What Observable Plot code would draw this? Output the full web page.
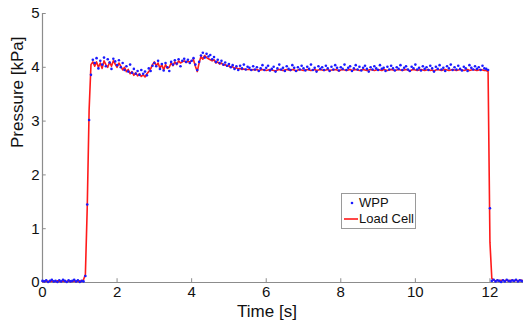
<!DOCTYPE html>
<html>
<head>
<meta charset="utf-8">
<script src="https://cdn.jsdelivr.net/npm/d3@7"></script>
<script src="https://cdn.jsdelivr.net/npm/@observablehq/plot@0.6"></script>
<style>
  body { margin: 0; background: #fff; }
  #wrap { position: relative; width: 523px; height: 325px; font-family: "Liberation Sans", Arial, sans-serif; }
  #legend { position: absolute; left: 341px; top: 193px; width: 73px; height: 34px; border: 1px solid #9a9a9a; background: #fff; font-size: 13px; color: #111; }
  .row { position: absolute; left: 0; height: 16px; line-height: 16px; }
  .sym { position: absolute; left: 2px; width: 14px; height: 16px; }
  .lab { position: absolute; left: 17px; white-space: nowrap; }
</style>
</head>
<body>
<div id="wrap"></div>
<script>
// sampling interval of both series [s]
const dt = 0.05;

const xTicks = [0, 2, 4, 6, 8, 10, 12];
const yTicks = [0, 1, 2, 3, 4, 5];
const xLabel = "Time [s]";
const yLabel = "Pressure [kPa]";
const seriesNames = ["WPP", "Load Cell"];

// WPP pressure [kPa], one value per sample
const wpp = [
  0.03,0.02,0.04,0.01,0.03,0.05,0.02,0.03,0.01,0.04,0.02,0.05,0.03,0.01,0.04,0.02,0.03,0.05,0.02,0.04,0.01,0.03,0.02,0.12,
  1.45,3.02,3.86,4.14,
  4.08,4.17,3.98,4.12,4.05,4.18,4.02,4.15,4.09,3.97,4.16,4.11,4.04,
  4.13,4.00,4.08,3.95,4.02,3.92,4.05,3.90,3.97,3.88,3.93,3.86,
  3.95,3.88,3.92,3.85,3.98,3.93,4.03,4.08,
  4.02,4.12,3.97,4.06,3.94,4.08,4.00,3.93,4.10,4.05,
  4.13,4.07,4.15,4.02,4.12,4.16,4.10,4.14,4.08,4.12,
  4.17,4.05,3.95,4.10,4.22,4.27,4.18,4.25,4.20,4.23,
  4.15,4.19,4.10,4.14,4.08,4.12,4.05,4.09,4.03,4.06,
  4.00,4.04,3.97,4.02,3.95,4.03,3.98,4.05,3.96,4.01,
  3.99,3.95,4.02,3.96,4.00,3.93,3.98,4.04,3.95,3.99,
  4.03,3.94,3.97,4.01,3.92,3.98,4.05,3.96,3.99,3.93,
  4.02,3.97,3.95,4.04,3.99,3.93,4.00,3.96,4.03,3.98,
  3.94,4.01,3.97,4.05,3.95,3.99,3.92,4.02,3.97,4.00,
  3.95,4.03,3.98,3.93,4.01,3.96,4.04,3.99,3.94,4.00,
  3.97,4.05,3.95,3.99,4.02,3.93,3.98,4.04,3.96,4.01,
  3.94,3.99,4.03,3.97,3.92,4.00,3.96,4.02,3.98,3.95,
  4.04,3.97,3.99,3.93,4.01,3.96,4.03,3.98,3.94,4.00,
  3.97,4.04,3.95,3.99,4.02,3.96,3.93,4.01,3.98,4.05,
  3.96,3.99,3.94,4.02,3.97,4.00,3.95,4.03,3.98,3.92,
  4.01,3.97,4.04,3.96,3.99,3.93,4.02,3.98,4.05,3.95,
  4.00,3.96,4.03,3.97,3.94,4.01,3.98,3.93,4.04,3.99,
  3.96,4.02,3.97,4.00,3.95,4.03,3.98,
  3.97,3.95,1.38,
  0.03,0.05,0.02,0.04,0.03,0.01,0.04,0.02,0.05,0.03,0.02,0.04,0.03,0.05,0.02,0.04,0.03,0.02
];

// Load cell pressure [kPa], one value per sample
const loadCell = [
  0.02,0.02,0.03,0.02,0.02,0.03,0.02,0.02,0.03,0.02,0.02,0.03,0.02,0.02,0.03,0.02,0.02,0.03,0.02,0.02,0.03,0.02,0.05,0.15,
  1.40,3.20,4.05,4.10,
  4.02,4.10,4.00,4.08,3.98,4.12,4.05,4.00,4.10,4.02,4.12,4.06,4.00,
  4.08,4.02,3.95,4.00,3.92,3.96,3.88,3.92,3.85,3.90,3.84,3.88,
  3.83,3.86,3.82,3.88,3.92,3.97,4.05,4.10,
  4.03,4.08,3.98,4.05,3.95,4.05,3.98,4.00,4.08,4.03,
  4.10,4.05,4.12,4.08,4.10,4.12,4.09,4.11,4.10,4.12,
  4.14,4.02,3.92,4.08,4.20,4.15,4.22,4.18,4.16,4.14,
  4.12,4.14,4.08,4.10,4.06,4.08,4.04,4.05,4.02,4.03,
  4.00,4.01,3.98,3.99,3.97,3.98,3.96,3.97,3.96,3.96,
  3.96,3.95,3.96,3.95,3.96,3.94,3.95,3.96,3.95,3.94,
  3.95,3.96,3.95,3.94,3.93,3.95,3.96,3.95,3.94,3.95,
  3.96,3.95,3.94,3.96,3.95,3.93,3.95,3.96,3.95,3.94,
  3.95,3.96,3.95,3.94,3.95,3.96,3.94,3.95,3.96,3.95,
  3.94,3.95,3.96,3.94,3.95,3.95,3.96,3.95,3.93,3.95,
  3.96,3.95,3.94,3.95,3.96,3.94,3.95,3.96,3.95,3.94,
  3.95,3.96,3.95,3.94,3.95,3.96,3.95,3.94,3.95,3.96,
  3.95,3.94,3.96,3.95,3.94,3.95,3.96,3.95,3.94,3.95,
  3.96,3.95,3.94,3.95,3.96,3.95,3.93,3.95,3.96,3.95,
  3.94,3.95,3.96,3.95,3.94,3.95,3.96,3.94,3.95,3.93,
  3.95,3.96,3.95,3.94,3.95,3.96,3.95,3.94,3.95,3.96,
  3.95,3.94,3.95,3.96,3.95,3.94,3.95,3.96,3.94,3.95,
  3.96,3.95,3.94,3.95,3.96,3.95,3.94,
  3.94,3.92,0.75,
  0.08,0.04,0.03,0.04,0.03,0.04,0.04,0.03,0.04,0.03,0.04,0.04,0.03,0.04,0.03,0.04,0.04,0.03
];

const wppData = wpp.map((v, i) => ({t: +(i * dt).toFixed(2), p: v}));
const cellData = loadCell.map((v, i) => ({t: +(i * dt).toFixed(2), p: v}));

const axisColor = "#8c8c8c";

const chart = Plot.plot({
  width: 523,
  height: 325,
  marginLeft: 42,
  marginRight: 0,
  marginTop: 13,
  marginBottom: 43,
  style: {fontFamily: "'Liberation Sans', Arial, sans-serif", fontSize: "15px", color: "#111", background: "#fff"},
  x: {domain: [0, 12.9]},
  y: {domain: [0, 5]},
  marks: [
    Plot.ruleY([0], {stroke: axisColor, strokeWidth: 1.2}),
    Plot.ruleX([0], {stroke: axisColor, strokeWidth: 1.2}),
    Plot.ruleX(xTicks, {x: d => d, y1: 0, y2: 0.07, stroke: axisColor}),
    Plot.ruleY(yTicks, {y: d => d, x1: 0, x2: 0.1, stroke: axisColor}),
    Plot.axisX({ticks: xTicks, tickFormat: d => String(d), tickSize: 0, tickPadding: 4, label: null, fontSize: 15}),
    Plot.axisY({ticks: yTicks, tickFormat: d => String(d), tickSize: 0, tickPadding: 3, label: null, fontSize: 15}),
    Plot.line(cellData, {x: "t", y: "p", stroke: "#ff1a1a", strokeWidth: 1.6}),
    Plot.dot(wppData, {x: "t", y: "p", r: 1.3, fill: "#1a1aff", stroke: null}),
    Plot.text([xLabel], {frameAnchor: "bottom", dx: -16, dy: 34, fontSize: 17, fill: "#111"}),
    Plot.text([yLabel], {frameAnchor: "left", dx: -25, rotate: -90, fontSize: 17, fill: "#111"})
  ]
});

const wrap = document.getElementById("wrap");
wrap.appendChild(chart);

// legend
const legend = document.createElement("div");
legend.id = "legend";
legend.innerHTML = `
  <div class="row" style="top:1px"><svg class="sym" viewBox="0 0 14 16"><circle cx="8" cy="8" r="1.3" fill="#1a1aff"/></svg><span class="lab">${seriesNames[0]}</span></div>
  <div class="row" style="top:17px"><svg class="sym" viewBox="0 0 14 16"><line x1="0" x2="14" y1="8" y2="8" stroke="#ff1a1a" stroke-width="1.6"/></svg><span class="lab">${seriesNames[1]}</span></div>`;
wrap.appendChild(legend);
</script>
</body>
</html>
